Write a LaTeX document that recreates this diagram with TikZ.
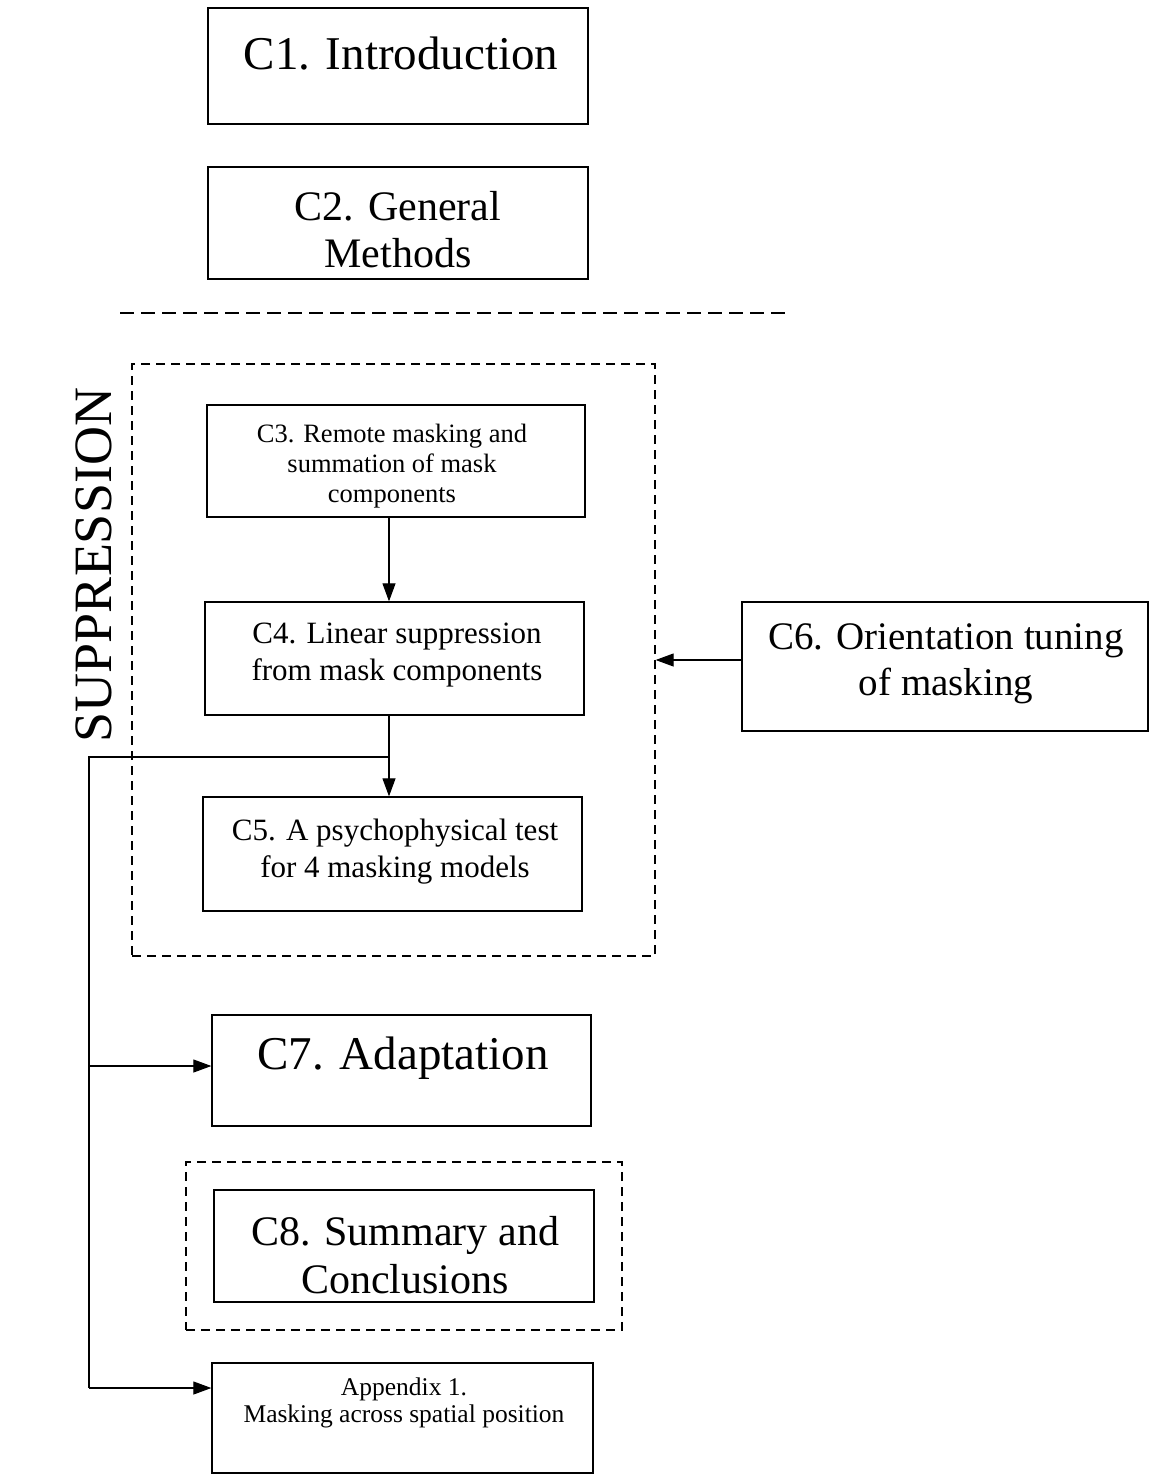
\documentclass[tikz,border=0pt]{standalone}
\usepackage{fontspec}
\setmainfont{Liberation Serif}
\usetikzlibrary{arrows.meta}
\begin{document}
\begin{tikzpicture}[x=1pt,y=-1pt,
  box/.style={draw,line width=1.3pt,inner sep=0pt},
  dbox/.style={draw,line width=1.3pt,dash pattern=on 9pt off 6pt,inner sep=0pt},
  lbl/.style={align=center,inner sep=0pt},
  conn/.style={line width=1.1pt},
  arr/.style={line width=1.1pt,-{Triangle[length=18pt,width=13pt]}}]
\useasboundingbox (0,0) rectangle (1154,1474);
\fill[white] (0,0) rectangle (1154,1474);
% boxes
\node[box,minimum width=380pt,minimum height=116pt] (c1) at (398,66) {};
\node[box,minimum width=380pt,minimum height=112pt] (c2) at (398,223) {};
\draw[conn,dash pattern=on 14pt off 7pt] (120,313) -- (785,313);
\node[dbox,minimum width=523pt,minimum height=592pt] (sup) at (393.5,660) {};
\node[box,minimum width=378pt,minimum height=112pt] (c3) at (396,461) {};
\node[box,minimum width=379pt,minimum height=113pt] (c4) at (394.5,658.5) {};
\node[box,minimum width=379pt,minimum height=114pt] (c5) at (392.5,854) {};
\node[box,minimum width=406pt,minimum height=129pt] (c6) at (945,666.5) {};
\node[box,minimum width=379pt,minimum height=111pt] (c7) at (401.5,1070.5) {};
\node[dbox,minimum width=436pt,minimum height=168pt] (c8d) at (404,1246) {};
\node[box,minimum width=380pt,minimum height=112pt] (c8) at (404,1246) {};
\node[box,minimum width=381pt,minimum height=110pt] (ap) at (402.5,1418) {};
% texts
\node[lbl,font=\fontsize{47}{52}\selectfont] (c1t) at (401,54) {C1. Introduction};
\node[lbl,font=\fontsize{42}{47}\selectfont] (c2t) at (398,230) {C2. General\\Methods};
\node[lbl,font=\fontsize{26.5}{30}\selectfont] (c3t) at (392,466) {C3. Remote masking and\\summation of mask\\components};
\node[lbl,font=\fontsize{31}{37}\selectfont] (c4t) at (397,655) {C4. Linear suppression\\from mask components};
\node[lbl,font=\fontsize{31}{37}\selectfont] (c5t) at (395,852) {C5. A psychophysical test\\for 4 masking models};
\node[lbl,font=\fontsize{39}{46}\selectfont] (c6t) at (946,664) {C6. Orientation tuning\\of masking};
\node[lbl,font=\fontsize{47}{52}\selectfont] (c7t) at (403,1058) {C7. Adaptation};
\node[lbl,font=\fontsize{42}{48}\selectfont] (c8t) at (405,1255) {C8. Summary and\\Conclusions};
\node[lbl,font=\fontsize{25.5}{27}\selectfont] (apt) at (404,1403) {Appendix 1.\\Masking across spatial position};
\node[lbl,font=\fontsize{54}{58}\selectfont,rotate=90] (supt) at (94,565) {SUPPRESSION};
% connectors
\coordinate (j) at (389,757);
\coordinate (l) at (89,757);
\coordinate (b7) at (89,1066);
\coordinate (ba) at (89,1388);
\draw[arr] (c3.south -| j) -- (c4.north -| j);
\draw[arr] (c4.south -| j) -- (c5.north -| j);
\draw[conn] (j) -- (l) -- (ba);
\draw[arr] (ba) -- (ap.west |- ba);
\draw[arr] (b7) -- (c7.west |- b7);
\draw[arr] (c6.west |- 0,660) -- (sup.east |- 0,660);
\end{tikzpicture}
\end{document}
